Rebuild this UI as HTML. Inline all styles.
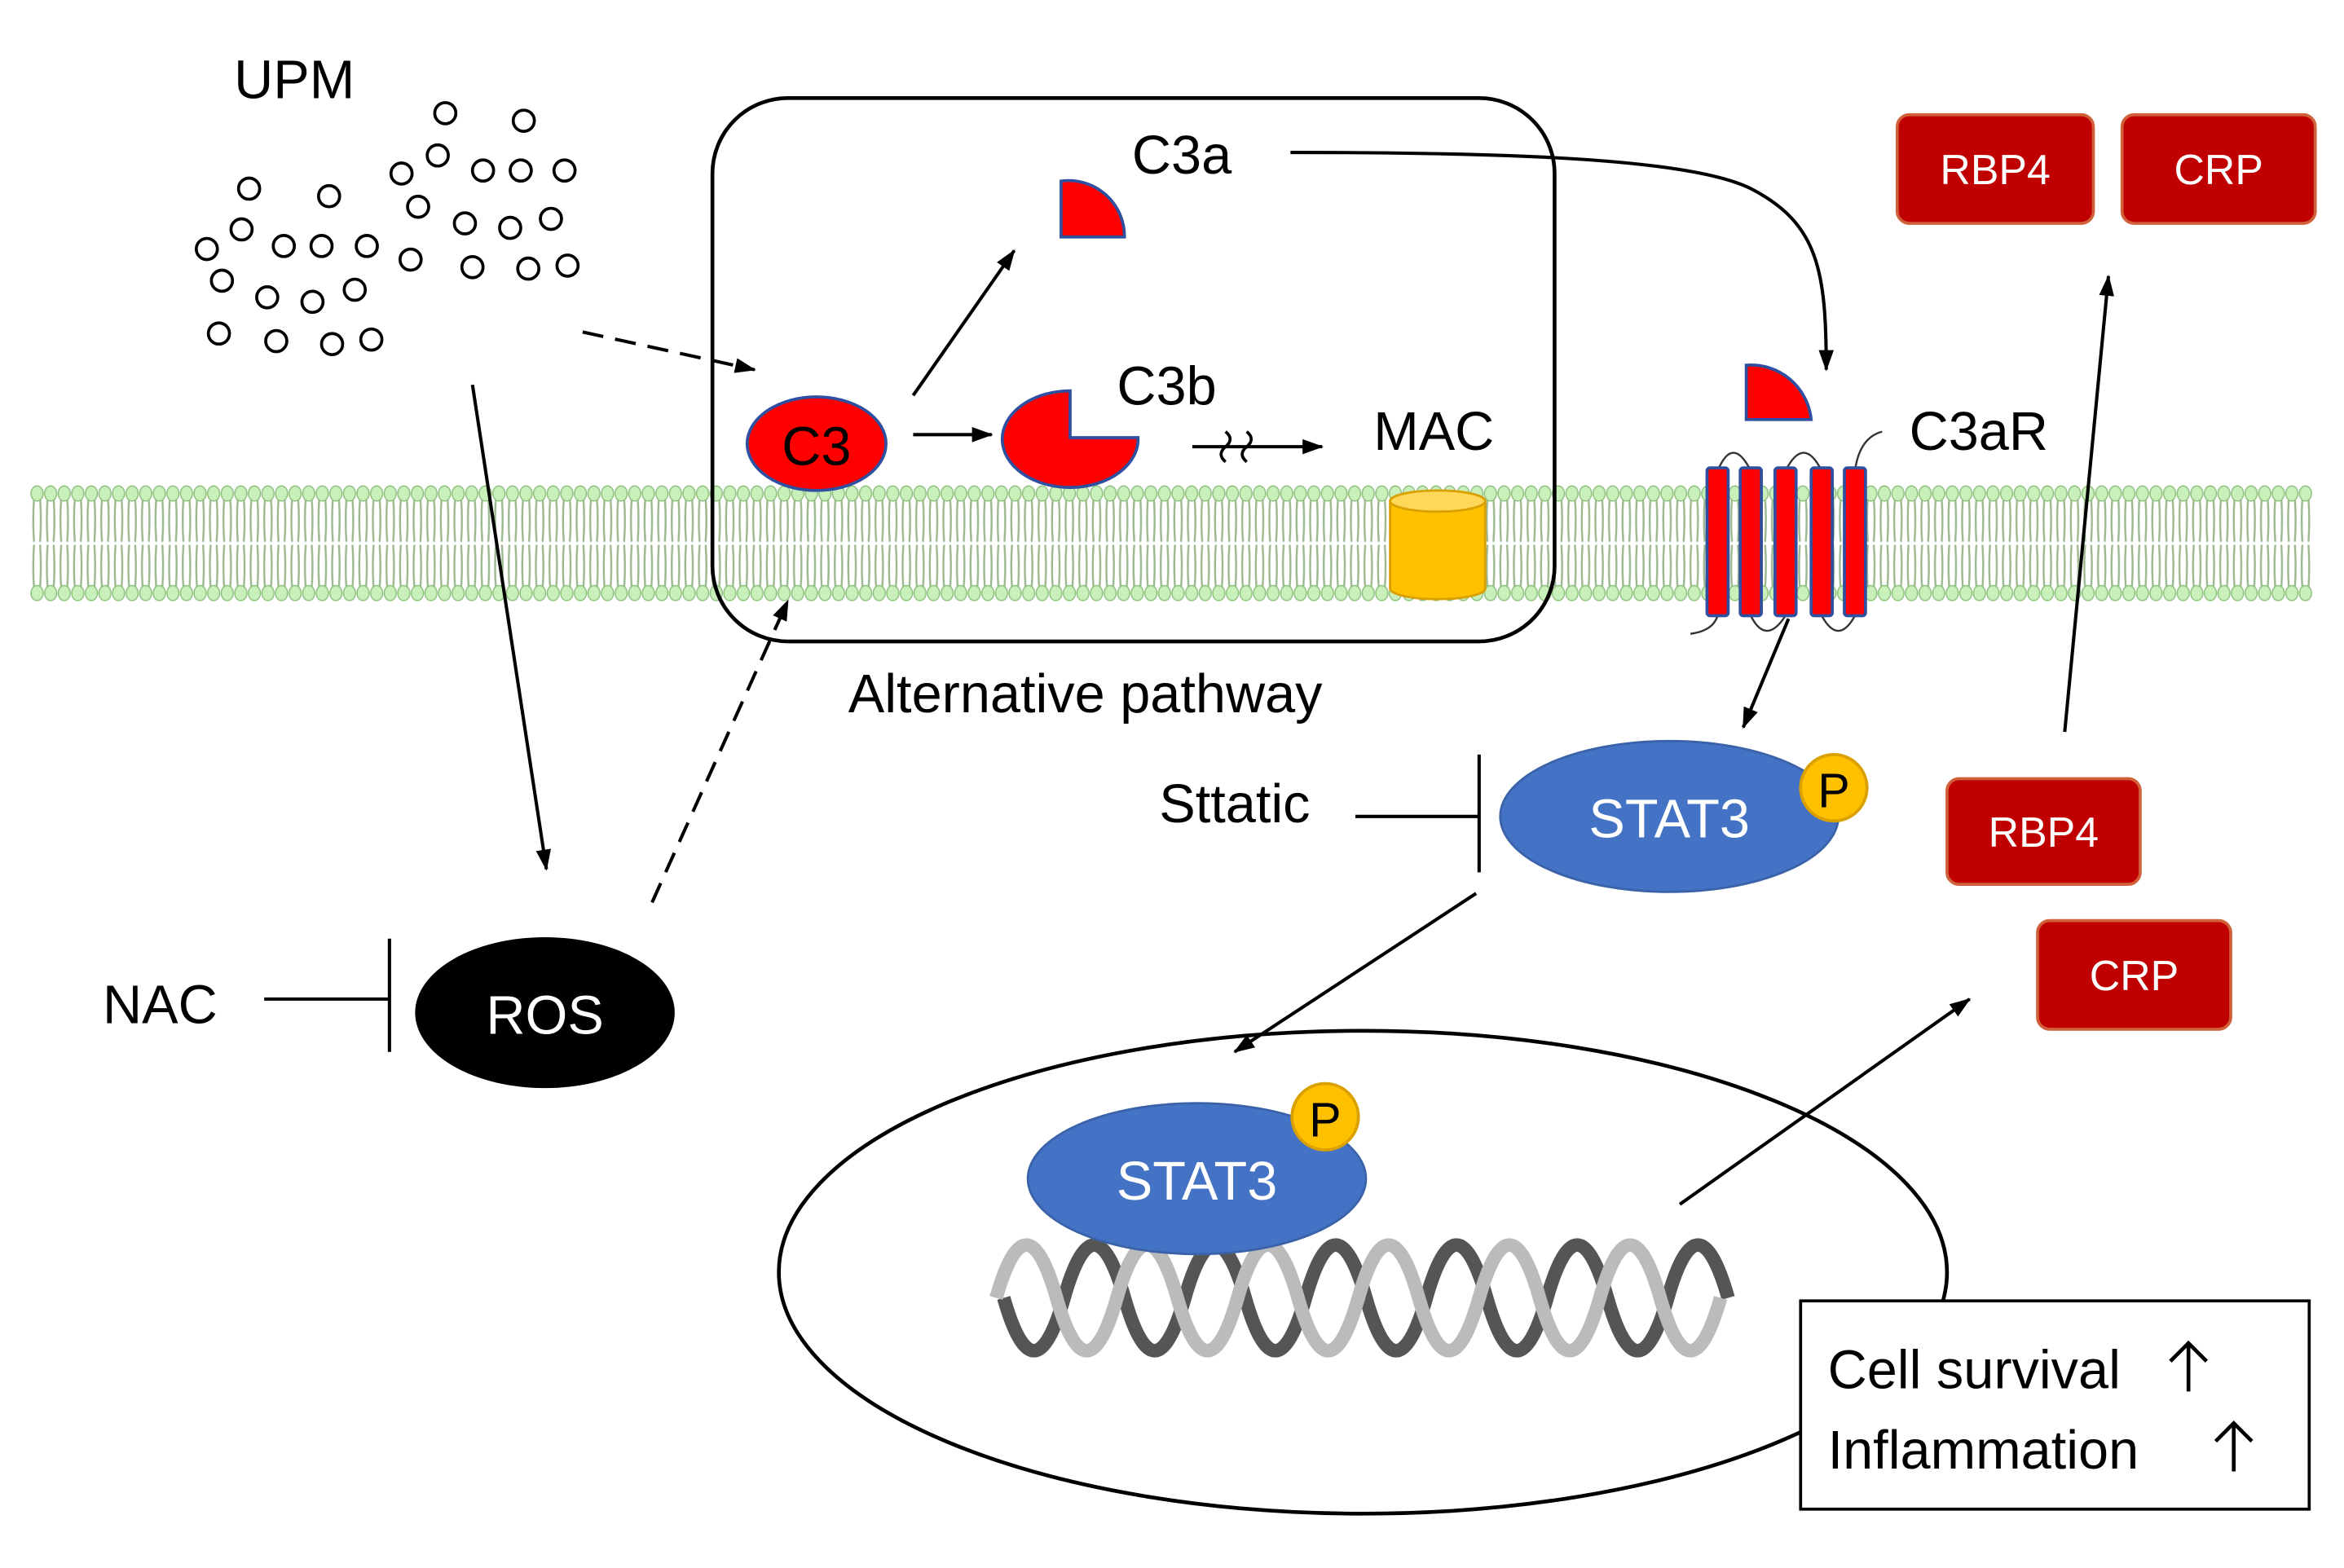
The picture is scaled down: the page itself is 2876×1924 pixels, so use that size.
<!DOCTYPE html>
<html><head><meta charset="utf-8"><style>
html,body{margin:0;padding:0;background:#fff;}
svg{display:block;}
text{font-family:"Liberation Sans",sans-serif;}
</style></head><body>
<svg width="2876" height="1924" viewBox="0 0 1553 1039" xmlns="http://www.w3.org/2000/svg">
<defs>
<pattern id="lip" x="20" y="320" width="9" height="80" patternUnits="userSpaceOnUse">
<rect width="9" height="80" fill="#fff"/>
<path d="M2.5 10 Q1.5 25 2.5 39 M6.5 10 Q7.5 25 6.5 39 M2.5 41 Q1.5 55 2.5 70 M6.5 41 Q7.5 55 6.5 70" stroke="#9bb88f" stroke-width="1.3" fill="none"/>
<ellipse cx="4.5" cy="7" rx="4" ry="5" fill="#c9efbb" stroke="#8fc07e" stroke-width="0.8"/>
<ellipse cx="4.5" cy="73" rx="4" ry="5" fill="#c9efbb" stroke="#8fc07e" stroke-width="0.8"/>
</pattern>
<marker id="ah" markerWidth="14" markerHeight="14" refX="13" refY="7" orient="auto" markerUnits="userSpaceOnUse" viewBox="0 0 14 14"><path d="M0 2 L14 7 L0 12z" fill="#000"/></marker>
</defs>
<rect x="20" y="320" width="1512" height="80" fill="url(#lip)"/>

<text x="155" y="65" font-size="36">UPM</text>
<g fill="#fff" stroke="#000" stroke-width="2">
<circle cx="295" cy="75" r="7"/><circle cx="347" cy="80" r="7"/><circle cx="165" cy="125" r="7"/><circle cx="218" cy="130" r="7"/>
<circle cx="290" cy="103" r="7"/><circle cx="266" cy="115" r="7"/><circle cx="320" cy="113" r="7"/><circle cx="345" cy="113" r="7"/><circle cx="374" cy="113" r="7"/>
<circle cx="277" cy="137" r="7"/><circle cx="308" cy="148" r="7"/><circle cx="338" cy="151" r="7"/><circle cx="365" cy="145" r="7"/>
<circle cx="137" cy="165" r="7"/><circle cx="160" cy="152" r="7"/><circle cx="188" cy="163" r="7"/><circle cx="213" cy="163" r="7"/><circle cx="243" cy="163" r="7"/>
<circle cx="272" cy="172" r="7"/><circle cx="313" cy="177" r="7"/><circle cx="350" cy="178" r="7"/><circle cx="376" cy="176" r="7"/>
<circle cx="147" cy="186" r="7"/><circle cx="177" cy="197" r="7"/><circle cx="207" cy="200" r="7"/><circle cx="235" cy="192" r="7"/>
<circle cx="145" cy="221" r="7"/><circle cx="183" cy="226" r="7"/><circle cx="220" cy="228" r="7"/><circle cx="246" cy="225" r="7"/>
</g>

<rect x="472" y="65" width="558" height="360" rx="50" fill="none" stroke="#000" stroke-width="2.5"/>
<text x="750" y="115" font-size="36">C3a</text>
<path d="M703 157 L703 120 A37 37 0 0 1 745 157 Z" fill="#f00" stroke="#2f4fa0" stroke-width="2"/>
<text x="740" y="268" font-size="36">C3b</text>
<path d="M709 290 L709 259 A45 32 0 1 0 754 290 Z" fill="#f00" stroke="#2f4fa0" stroke-width="2"/>
<ellipse cx="541" cy="294" rx="46" ry="31" fill="#f00" stroke="#2f4fa0" stroke-width="2"/>
<text x="541" y="308" font-size="36" text-anchor="middle">C3</text>
<g stroke="#000" stroke-width="2.2" fill="none">
<line x1="605" y1="262" x2="672" y2="166" marker-end="url(#ah)"/>
<line x1="605" y1="288" x2="657" y2="288" marker-end="url(#ah)"/>
<line x1="790" y1="296" x2="876" y2="296" marker-end="url(#ah)"/>
<path d="M812 286 q6 5 0 10 q-6 5 0 10 M826 286 q6 5 0 10 q-6 5 0 10" stroke-width="2"/>
<path d="M855 101 C1000 101 1120 105 1160 125 C1205 148 1210 180 1210 245" marker-end="url(#ah)"/>
<line x1="313" y1="255" x2="362" y2="576" marker-end="url(#ah)"/>
<line x1="386" y1="220" x2="500" y2="245" stroke-dasharray="14 8" marker-end="url(#ah)"/>
<line x1="432" y1="598" x2="522" y2="398" stroke-dasharray="14 8" marker-end="url(#ah)"/>
<line x1="1185" y1="410" x2="1155" y2="482" marker-end="url(#ah)"/>
<line x1="978" y1="592" x2="818" y2="697" marker-end="url(#ah)"/>
<line x1="1113" y1="798" x2="1305" y2="662" marker-end="url(#ah)"/>
<line x1="1368" y1="485" x2="1397" y2="183" marker-end="url(#ah)"/>
<line x1="898" y1="541" x2="980" y2="541"/><line x1="980" y1="500" x2="980" y2="578"/>
<line x1="175" y1="662" x2="258" y2="662"/><line x1="258" y1="622" x2="258" y2="697"/>
</g>
<text x="910" y="298" font-size="36">MAC</text>
<path d="M921 332 L921 390 A31.5 7 0 0 0 984 390 L984 332 Z" fill="#ffc000" stroke="#d9a000" stroke-width="1.5"/>
<ellipse cx="952.5" cy="332" rx="31.5" ry="7" fill="#ffd85a" stroke="#d9a000" stroke-width="1.5"/>
<text x="562" y="472" font-size="36">Alternative pathway</text>

<path d="M1157 278 L1157 242 A40 40 0 0 1 1200 278 Z" fill="#f00" stroke="#2f4fa0" stroke-width="2"/>
<text x="1265" y="298" font-size="36">C3aR</text>
<g fill="none" stroke="#333" stroke-width="1.3">
<path d="M1138 312 Q1148 288 1160 312 M1183 312 Q1195 288 1207 312 M1229 312 Q1232 290 1247 286 M1138 408 Q1135 418 1120 420 M1160 408 Q1170 428 1183 408 M1207 408 Q1218 428 1229 408"/>
</g>
<g fill="#f00" stroke="#2f4fa0" stroke-width="2">
<rect x="1131" y="310" width="14" height="98" rx="2"/><rect x="1153" y="310" width="14" height="98" rx="2"/><rect x="1176" y="310" width="14" height="98" rx="2"/><rect x="1200" y="310" width="14" height="98" rx="2"/><rect x="1222" y="310" width="14" height="98" rx="2"/>
</g>

<ellipse cx="1106" cy="541" rx="112" ry="50" fill="#4472c4" stroke="#3a62a8" stroke-width="1.5"/>
<text x="1106" y="555" font-size="36" fill="#fff" text-anchor="middle">STAT3</text>
<circle cx="1215" cy="522" r="22" fill="#ffc000" stroke="#d9a000" stroke-width="2"/>
<text x="1215" y="535" font-size="32" text-anchor="middle">P</text>
<text x="768" y="545" font-size="36">Sttatic</text>

<ellipse cx="903" cy="843" rx="387" ry="160" fill="none" stroke="#000" stroke-width="2.5"/>
<g fill="none" stroke-width="9">
<path d="M665 830 q20 70 40 0 q20 -70 40 0 q20 70 40 0 q20 -70 40 0 q20 70 40 0 q20 -70 40 0 q20 70 40 0 q20 -70 40 0 q20 70 40 0 q20 -70 40 0 q20 70 40 0 q20 -70 40 0" transform="translate(0 30)" stroke="#555"/>
<path d="M660 860 q20 -70 40 0 q20 70 40 0 q20 -70 40 0 q20 70 40 0 q20 -70 40 0 q20 70 40 0 q20 -70 40 0 q20 70 40 0 q20 -70 40 0 q20 70 40 0 q20 -70 40 0 q20 70 40 0" stroke="#bbb"/>
</g>
<ellipse cx="793" cy="781" rx="112" ry="50" fill="#4472c4" stroke="#3a62a8" stroke-width="1.5"/>
<text x="793" y="795" font-size="36" fill="#fff" text-anchor="middle">STAT3</text>
<circle cx="878" cy="740" r="22" fill="#ffc000" stroke="#d9a000" stroke-width="2"/>
<text x="878" y="753" font-size="32" text-anchor="middle">P</text>

<ellipse cx="361" cy="671" rx="86" ry="50" fill="#000"/>
<text x="361" y="685" font-size="36" fill="#fff" text-anchor="middle">ROS</text>
<text x="68" y="678" font-size="36">NAC</text>

<g fill="#c00000" stroke="#d0603a" stroke-width="2">
<rect x="1257" y="76" width="130" height="72" rx="8"/><rect x="1406" y="76" width="128" height="72" rx="8"/>
<rect x="1290" y="516" width="128" height="70" rx="8"/><rect x="1350" y="610" width="128" height="72" rx="8"/>
</g>
<g fill="#fff" font-size="28" text-anchor="middle">
<text x="1322" y="122">RBP4</text><text x="1470" y="122">CRP</text>
<text x="1354" y="561">RBP4</text><text x="1414" y="656">CRP</text>
</g>
<rect x="1193" y="862" width="337" height="138" fill="#fff" stroke="#000" stroke-width="2"/>
<text x="1211" y="920" font-size="36">Cell survival</text>
<text x="1211" y="973" font-size="36">Inflammation</text>
<g stroke="#000" stroke-width="2.5" fill="none">
<path d="M1450 922 L1450 890 M1438 902 L1450 890 L1462 902"/>
<path d="M1480 975 L1480 943 M1468 955 L1480 943 L1492 955"/>
</g>
</svg>
</body></html>
